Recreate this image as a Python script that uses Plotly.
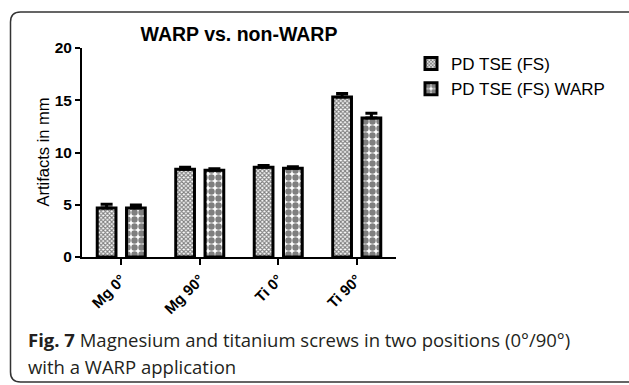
import plotly.graph_objects as go

categories = ["Mg 0°", "Mg 90°", "Ti 0°", "Ti 90°"]
fs_values = [4.7, 8.4, 8.6, 15.3]
fs_errors = [0.35, 0.2, 0.15, 0.35]
warp_values = [4.7, 8.3, 8.5, 13.3]
warp_errors = [0.28, 0.15, 0.14, 0.45]
series_names = ["PD TSE (FS)", "PD TSE (FS) WARP"]
y_ticks = [0, 5, 10, 15, 20]

W_TOT, H_TOT = 629, 385
L, R, T, B = 82, 233, 48, 128
PW = W_TOT - L - R
PH = H_TOT - T - B


def px(x):
    return (x - L) / PW


def py(y):
    return (H_TOT - B - y) / PH


FONT = "Arial, Liberation Sans, sans-serif"

fig = go.Figure()
fig.add_trace(go.Bar(
    name=series_names[0], x=categories, y=fs_values,
    marker=dict(color="white", line=dict(color="black", width=3),
                pattern=dict(shape="x", size=3, solidity=0.6,
                             fgcolor="black", bgcolor="white")),
    error_y=dict(type="data", array=fs_errors, arrayminus=[0] * 4,
                 symmetric=False, color="black", thickness=3, width=6),
))
fig.add_trace(go.Bar(
    name=series_names[1], x=categories, y=warp_values,
    marker=dict(color="white", line=dict(color="black", width=3),
                pattern=dict(shape=".", size=7, solidity=0.66,
                             fgcolor="black", bgcolor="white")),
    error_y=dict(type="data", array=warp_errors, arrayminus=[0] * 4,
                 symmetric=False, color="black", thickness=3, width=6),
))

# frame with rounded corners (pixel coordinates converted to paper)
x0, y0, x1, y1, r = 10.5, 12, 645, 382, 10
path = (f"M {px(x0)},{py(y0 + r)} "
        f"Q {px(x0)},{py(y0)} {px(x0 + r)},{py(y0)} "
        f"L {px(x1 - r)},{py(y0)} "
        f"Q {px(x1)},{py(y0)} {px(x1)},{py(y0 + r)} "
        f"L {px(x1)},{py(y1 - r)} "
        f"Q {px(x1)},{py(y1)} {px(x1 - r)},{py(y1)} "
        f"L {px(x0 + r)},{py(y1)} "
        f"Q {px(x0)},{py(y1)} {px(x0)},{py(y1 - r)} Z")

fig.update_layout(
    width=W_TOT, height=H_TOT,
    margin=dict(l=L, r=R, t=T, b=B),
    paper_bgcolor="white", plot_bgcolor="white",
    barmode="group", bargap=0.254, bargroupgap=0.36,
    font=dict(family=FONT, color="black"),
    title=dict(text="<b>WARP vs. non-WARP</b>", x=px(239), xref="paper",
               xanchor="center", y=1 - 34 / H_TOT, yref="container",
               yanchor="middle", font=dict(size=19.5, family=FONT, color="black")),
    showlegend=True,
    legend=dict(x=px(411), y=py(46), xanchor="left", yanchor="top",
                font=dict(size=17, family=FONT, color="black"),
                bgcolor="rgba(0,0,0,0)", itemclick=False),
    xaxis=dict(range=[-0.5, 3.5], showline=True, linecolor="black", linewidth=2,
               ticks="outside", ticklen=6, tickwidth=2, tickcolor="black",
               tickangle=-45, tickfont=dict(size=15, family=FONT, color="black", weight="bold"),
               showgrid=False, zeroline=False, fixedrange=True),
    yaxis=dict(range=[0, 20], tickvals=y_ticks, showline=True, linecolor="black",
               linewidth=2, ticks="outside", ticklen=5, tickwidth=2, tickcolor="black",
               tickfont=dict(size=15.5, family=FONT, color="black", weight="bold"),
               showgrid=False, zeroline=False, fixedrange=True),
    shapes=[dict(type="path", path=path, xref="paper", yref="paper",
                 line=dict(color="#333333", width=1.5), layer="above")],
    annotations=[
        dict(text="Artifacts in mm", x=px(42), y=py(152.5), xref="paper", yref="paper",
             textangle=-90, showarrow=False, xanchor="center", yanchor="middle",
             font=dict(size=16.5, family=FONT, color="black")),
        dict(text="<b>Fig. 7</b> Magnesium and titanium screws in two positions (0°/90°)",
             x=px(26), y=py(339), xref="paper", yref="paper", showarrow=False,
             xanchor="left", yanchor="middle",
             font=dict(size=18.5, family="Open Sans, sans-serif", color="#231f20")),
        dict(text="with a WARP application",
             x=px(26), y=py(366), xref="paper", yref="paper", showarrow=False,
             xanchor="left", yanchor="middle",
             font=dict(size=18.5, family="Open Sans, sans-serif", color="#231f20")),
    ],
)

fig.write_html("out.html", config={"displayModeBar": False, "staticPlot": True},
               post_script="document.body.style.margin='0';document.body.style.overflow='hidden';")
